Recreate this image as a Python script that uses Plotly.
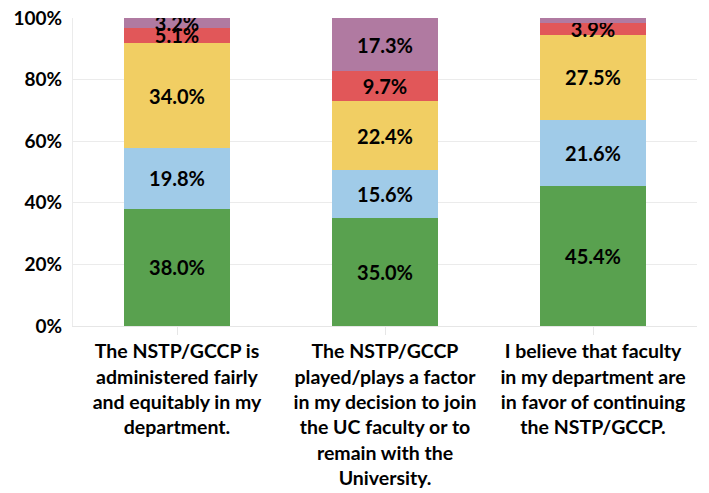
import plotly.graph_objects as go

categories = [
    "The NSTP/GCCP is<br>administered fairly<br>and equitably in my<br>department.",
    "The NSTP/GCCP<br>played/plays a factor<br>in my decision to join<br>the UC faculty or to<br>remain with the<br>University.",
    "I believe that faculty<br>in my department are<br>in favor of continuing<br>the NSTP/GCCP.",
]
s1 = [38.0, 35.0, 45.4]
s2 = [19.8, 15.6, 21.6]
s3 = [34.0, 22.4, 27.5]
s4 = [5.1, 9.7, 3.9]
s5 = [3.2, 17.3, 1.6]
s5_labels = ["3.2%", "17.3%", ""]
y_ticks = [0, 20, 40, 60, 80, 100]
y_tick_labels = ["0%", "20%", "40%", "60%", "80%", "100%"]
series = [s1, s2, s3, s4, s5]
colors = ["#59A14F", "#A0CBE8", "#F1CE63", "#E15759", "#B07AA1"]
x = [0, 1, 2]

fig = go.Figure()
for i, (vals, col) in enumerate(zip(series, colors)):
    txt = s5_labels if i == 4 else [f"{v:.1f}%" for v in vals]
    fig.add_trace(go.Bar(
        x=x, y=vals, marker=dict(color=col, line=dict(width=0)),
        text=txt, textposition="inside", insidetextanchor="middle",
        textfont=dict(family="Lato", size=20, color="black", weight="bold"),
        textangle=0, showlegend=False, hoverinfo="skip",
    ))

fig.update_layout(
    barmode="stack", bargap=0.49,
    width=701, height=485,
    margin=dict(l=65, r=12, t=10, b=167, autoexpand=False),
    plot_bgcolor="white", paper_bgcolor="white",
    uniformtext=dict(minsize=20, mode="show"),
    font=dict(family="Lato", color="black"),
)
fig.update_xaxes(
    tickmode="array", tickvals=x, ticktext=categories, automargin=False,
    range=[-0.5, 2.5], tickson="boundaries", ticks="outside", ticklen=8,
    tickcolor="#E6E6E6", showline=True, linecolor="#E6E6E6",
    tickfont=dict(family="Lato", size=19.5, color="black", weight="bold"),
    tickangle=0, ticklabeloverflow="allow",
)
fig.update_yaxes(
    range=[0, 100], tickmode="array", tickvals=y_ticks, ticktext=y_tick_labels,
    automargin=False, ticklabeloverflow="allow",
    showgrid=True, gridcolor="#EBEBEB", zeroline=False,
    showline=True, linecolor="#EBEBEB",
    tickfont=dict(family="Lato", size=19, color="black", weight="bold"),
    ticks="", ticklabelstandoff=6,
)
fig.write_html("out.html")
